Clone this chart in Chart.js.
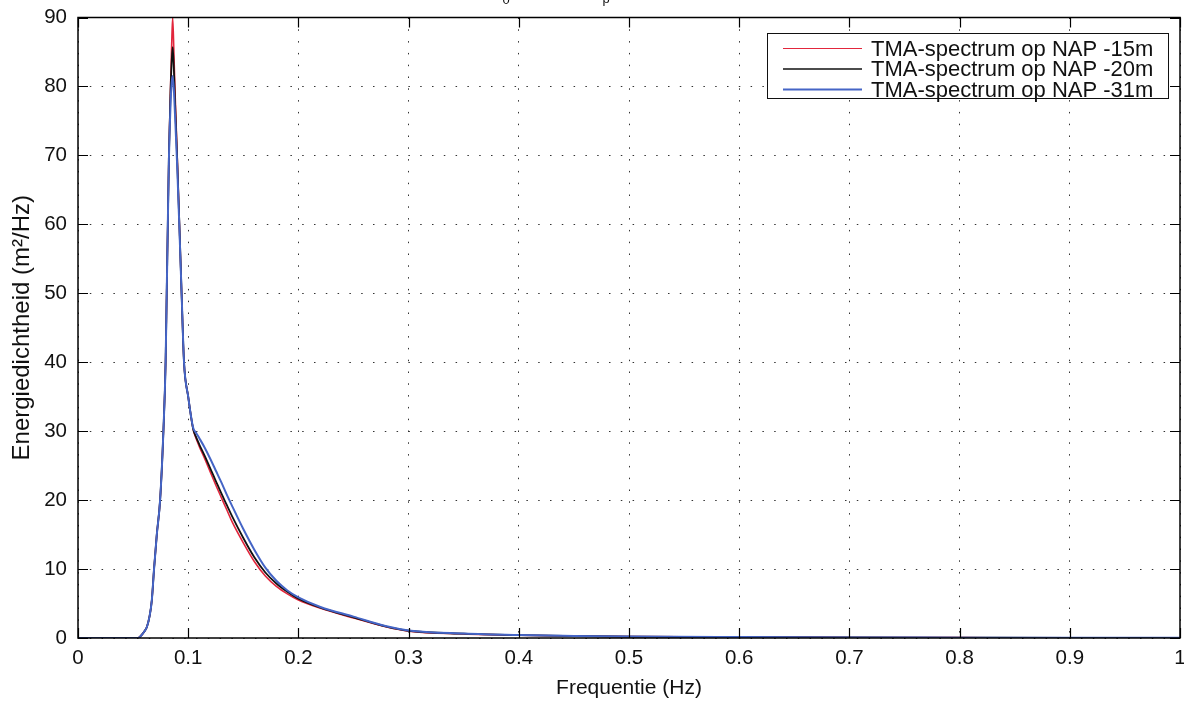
<!DOCTYPE html>
<html>
<head>
<meta charset="utf-8">
<script src="https://cdn.jsdelivr.net/npm/chart.js@4.4.1/dist/chart.umd.min.js"></script>
<style>
  html, body { margin: 0; padding: 0; background: #fff; }
  #wrap { width: 1184px; height: 704px; position: relative; }
</style>
</head>
<body>
<div id="wrap"><canvas id="c" width="1184" height="704"></canvas></div>
<script>
// Frequency axis (Hz)
const freq = [0, 0.05, 0.0545, 0.057, 0.06, 0.0625, 0.065, 0.067, 0.069, 0.0715,
  0.0745, 0.0775, 0.0795, 0.0805, 0.0815, 0.0825, 0.084, 0.085, 0.0859, 0.087,
  0.088, 0.09, 0.092, 0.094, 0.0962, 0.1, 0.1045, 0.107, 0.11, 0.115,
  0.12, 0.125, 0.13, 0.135, 0.14, 0.15, 0.16, 0.17, 0.18, 0.19,
  0.2, 0.22, 0.25, 0.28, 0.3, 0.35, 0.4, 0.45, 0.5, 0.6,
  0.7, 0.8, 0.9, 1.0];

// Energy density (m2/Hz) per water depth
const nap15 = [0, 0, 0, 0.3, 0.9, 1.6, 3.2, 5.5, 10, 15,
  20, 30, 40, 50, 60, 70, 80, 86, 90, 85,
  79.5, 70, 60, 50, 40, 35, 30.3, 29.0, 27.8, 26.0,
  24.1, 22.2, 20.4, 18.6, 16.8, 13.8, 11.1, 9.0, 7.5, 6.4,
  5.5, 4.3, 2.9, 1.6, 1.0, 0.6, 0.4, 0.28, 0.2, 0.12,
  0.08, 0.05, 0.03, 0.02];
const nap20 = [0, 0, 0, 0.3, 0.9, 1.6, 3.2, 5.5, 10, 15,
  20, 30, 40, 50, 60, 70, 79.5, 83.5, 85.7, 82.5,
  78, 69.5, 60, 50, 40, 35, 30.3, 29.2, 28.1, 26.4,
  24.6, 22.8, 21.0, 19.3, 17.6, 14.5, 11.7, 9.5, 7.9, 6.7,
  5.7, 4.4, 3.0, 1.65, 1.05, 0.62, 0.41, 0.29, 0.2, 0.12,
  0.08, 0.05, 0.03, 0.02];
const nap31 = [0, 0, 0, 0.3, 0.9, 1.6, 3.2, 5.5, 10, 15,
  20, 30, 40, 50, 60, 69.5, 77.5, 80.5, 81.5, 79.5,
  76, 68.5, 59.5, 50, 40, 35, 30.5, 29.8, 29.0, 27.6,
  26.0, 24.3, 22.6, 20.8, 19.1, 15.8, 12.8, 10.2, 8.3, 6.9,
  5.9, 4.5, 3.1, 1.7, 1.1, 0.64, 0.42, 0.3, 0.21, 0.13,
  0.08, 0.05, 0.03, 0.02];

const seriesLabels = ['TMA-spectrum op NAP -15m', 'TMA-spectrum op NAP -20m', 'TMA-spectrum op NAP -31m'];
const xTickLabels = ['0', '0.1', '0.2', '0.3', '0.4', '0.5', '0.6', '0.7', '0.8', '0.9', '1'];
const yTickLabels = ['0', '10', '20', '30', '40', '50', '60', '70', '80', '90'];

const FONT = "'Liberation Sans', Arial, Helvetica, sans-serif";

function pts(ys) { return freq.map((f, i) => ({ x: f, y: ys[i] })); }

// Axes box, inward tick marks, boxed legend and cut-off title subscripts
const framePlugin = {
  id: 'frame',
  afterDraw(chart) {
    const { ctx, chartArea: a, scales } = chart;
    const xs = scales.x, ys = scales.y;
    const TL = 10;
    ctx.save();
    ctx.strokeStyle = '#000';
    ctx.lineWidth = 1.2;
    ctx.beginPath();
    xs.ticks.forEach(t => {
      const px = Math.round(xs.getPixelForValue(t.value)) + 0.5;
      ctx.moveTo(px, a.bottom); ctx.lineTo(px, a.bottom - TL);
      ctx.moveTo(px, a.top); ctx.lineTo(px, a.top + TL);
    });
    ys.ticks.forEach(t => {
      const py = Math.round(ys.getPixelForValue(t.value)) + 0.5;
      ctx.moveTo(a.left, py); ctx.lineTo(a.left + TL, py);
      ctx.moveTo(a.right, py); ctx.lineTo(a.right - TL, py);
    });
    ctx.stroke();
    ctx.lineWidth = 1.5;
    ctx.strokeRect(a.left, a.top, a.right - a.left, a.bottom - a.top);

    // legend
    const lx = 767, ly = 33, lw = 401, lh = 65;
    ctx.fillStyle = '#fff';
    ctx.fillRect(lx, ly, lw, lh);
    ctx.lineWidth = 1;
    ctx.strokeStyle = '#111';
    ctx.strokeRect(lx + 0.5, ly + 0.5, lw, lh);
    ctx.font = '22px ' + FONT;
    ctx.textBaseline = 'middle';
    ctx.textAlign = 'left';
    chart.data.datasets.forEach((ds, i) => {
      const y = ly + 15.5 + i * 20.5;
      ctx.strokeStyle = ds.borderColor;
      ctx.lineWidth = ds.legendWidth;
      ctx.beginPath();
      ctx.moveTo(783, y); ctx.lineTo(862, y);
      ctx.stroke();
      ctx.fillStyle = '#111';
      ctx.fillText(ds.label, 871, y + 1);
    });

    // title subscripts peeking in at the top edge
    ctx.fillStyle = '#111';
    ctx.font = '13px ' + FONT;
    ctx.textBaseline = 'alphabetic';
    ctx.textAlign = 'center';
    ctx.fillText('0', 506, 3.5);
    ctx.fillText('p', 606, 2.5);
    ctx.restore();
  }
};

new Chart(document.getElementById('c'), {
  type: 'line',
  data: {
    datasets: [
      { label: seriesLabels[0], data: pts(nap15), borderColor: '#e2263c', borderWidth: 1.6, legendWidth: 1.2, order: 3 },
      { label: seriesLabels[1], data: pts(nap20), borderColor: '#111111', borderWidth: 1.8, legendWidth: 1.4, order: 2 },
      { label: seriesLabels[2], data: pts(nap31), borderColor: '#4565c6', borderWidth: 2, legendWidth: 2, order: 1 }
    ]
  },
  options: {
    responsive: false,
    animation: false,
    devicePixelRatio: 1,
    elements: { point: { radius: 0 }, line: { cubicInterpolationMode: 'monotone', fill: false } },
    layout: { padding: { top: 17.5, right: 4, left: 0, bottom: 0 } },
    plugins: { legend: { display: false }, tooltip: { enabled: false }, title: { display: false } },
    scales: {
      x: {
        type: 'linear', min: 0, max: 1,
        afterFit(s) { s.height = 66; s.paddingLeft = 0; s.paddingRight = 0; },
        ticks: {
          stepSize: 0.1, color: '#111', padding: 8,
          font: { family: FONT, size: 20.5 },
          maxRotation: 0,
          callback: (v, i) => xTickLabels[i]
        },
        grid: { color: '#333', lineWidth: 1, drawTicks: false },
        border: { display: false, dash: [1.5, 10.3] },
        title: { display: true, text: 'Frequentie (Hz)', color: '#111', font: { family: FONT, size: 21 }, padding: { top: 0, bottom: 3 } }
      },
      y: {
        min: 0, max: 90,
        afterFit(s) { s.width = 78; s.paddingTop = 0; s.paddingBottom = 0; },
        ticks: {
          stepSize: 10, color: '#111', padding: 11,
          font: { family: FONT, size: 20.5 },
          callback: (v, i) => yTickLabels[i]
        },
        grid: { color: '#333', lineWidth: 1, drawTicks: false },
        border: { display: false, dash: [1.5, 10.3] },
        title: { display: true, text: 'Energiedichtheid (m²/Hz)', color: '#111', font: { family: FONT, size: 24 }, padding: { top: 8, bottom: 0 } }
      }
    }
  },
  plugins: [framePlugin]
});
</script>
</body>
</html>
